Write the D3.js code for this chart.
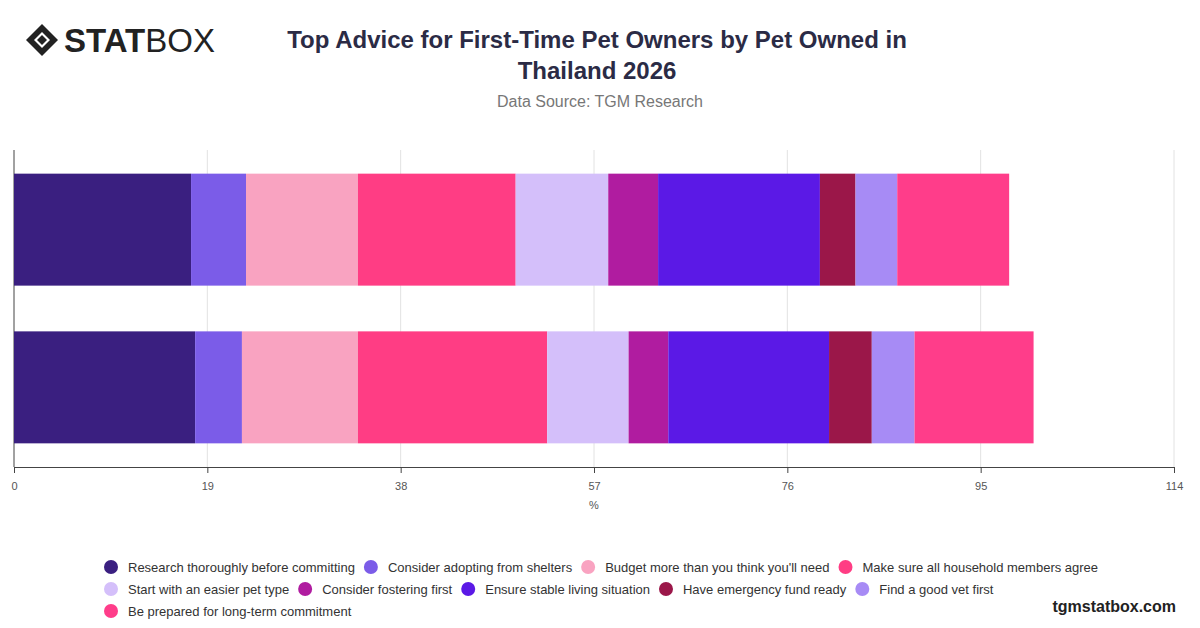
<!DOCTYPE html>
<html><head><meta charset="utf-8">
<script src="https://cdn.jsdelivr.net/npm/d3@7"></script>
<style>body{margin:0;background:#fff;font-family:"Liberation Sans",Arial,sans-serif}</style>
</head><body><svg width="1200" height="628"></svg>
<script>
const categories = ["Cat", "Dog"];
const seriesNames = ["Research thoroughly before committing","Consider adopting from shelters","Budget more than you think you'll need","Make sure all household members agree","Start with an easier pet type","Consider fostering first","Ensure stable living situation","Have emergency fund ready","Find a good vet first","Be prepared for long-term commitment"];
const seriesColors = ["#3a1f80","#7b5ce8","#f9a3c1","#ff3d84","#d4bffa","#b01ca0","#5b19e6","#9b1749","#a78bf5","#ff3d8a"];
const catValues = [17.4,5.4,11.0,15.5,9.1,4.9,15.9,3.5,4.1,11.0];
const dogValues = [17.8,4.6,11.4,18.6,8.0,3.9,15.8,4.2,4.2,11.7];
const ticks = [0,19,38,57,76,95,114];

const svg = d3.select("svg");
// logo
const logo = svg.append("g").attr("transform","translate(26,24)");
logo.append("path").attr("d","M16,0 L32,16 L16,32 L0,16 Z M16,8 L8,16 L16,24 L24,16 Z").attr("fill","#222").attr("fill-rule","evenodd");
logo.append("path").attr("d","M16,11 L21,16 L16,21 L11,16 Z").attr("fill","#222");
logo.append("text").attr("x",38).attr("y",28).attr("font-size",33).attr("fill","#222")
  .html('<tspan font-weight="900">STAT</tspan><tspan font-weight="400">BOX</tspan>');

svg.append("text").attr("x",597).attr("y",48).attr("text-anchor","middle").attr("font-size",24).attr("font-weight",700).attr("fill","#2b2b45").text("Top Advice for First-Time Pet Owners by Pet Owned in");
svg.append("text").attr("x",597).attr("y",79).attr("text-anchor","middle").attr("font-size",24).attr("font-weight",700).attr("fill","#2b2b45").text("Thailand 2026");
svg.append("text").attr("x",600).attr("y",107).attr("text-anchor","middle").attr("font-size",16).attr("fill","#777").text("Data Source: TGM Research");

const x = d3.scaleLinear().domain([0,114]).range([14,1174]);
const y = d3.scaleBand().domain(categories).range([150,467]).paddingInner(0.29).paddingOuter(0.15);

svg.append("g").selectAll("line").data(ticks.slice(1)).join("line")
  .attr("x1",d=>x(d)).attr("x2",d=>x(d)).attr("y1",150).attr("y2",467).attr("stroke","#e2e2e2");
svg.append("line").attr("x1",14).attr("x2",14).attr("y1",150).attr("y2",467).attr("stroke","#444");

const rows = [catValues, dogValues];
rows.forEach((vals,ci)=>{
  let acc=0;
  const segs = vals.map((v,i)=>{const s={x0:acc,x1:acc+v,i};acc+=v;return s;});
  svg.append("g").selectAll("rect").data(segs).join("rect")
    .attr("x",d=>x(d.x0)).attr("width",d=>x(d.x1)-x(d.x0))
    .attr("y",y(categories[ci])).attr("height",y.bandwidth())
    .attr("fill",d=>seriesColors[d.i]);
});

const ax = svg.append("g").attr("transform","translate(0,467)")
  .call(d3.axisBottom(x).tickValues(ticks).tickSize(6).tickPadding(9));
ax.select(".domain").attr("stroke","#444");
ax.selectAll(".tick line").attr("stroke","#444");
ax.selectAll("text").attr("font-size",11).attr("fill","#555").attr("font-family","Liberation Sans,Arial,sans-serif");
svg.append("text").attr("x",594).attr("y",509).attr("text-anchor","middle").attr("font-size",11).attr("fill","#555").text("%");

// legend
let lx=104, ly=567;
seriesNames.forEach((n,i)=>{
  const g = svg.append("g");
  const t = g.append("text").attr("font-size",13).attr("fill","#333").attr("dy","0.35em").text(n);
  const w = t.node().getComputedTextLength();
  if (lx + 24 + w > 1110) { lx=104; ly+=22; }
  g.append("circle").attr("cx",lx+7).attr("cy",ly).attr("r",7).attr("fill",seriesColors[i]);
  t.attr("x",lx+24).attr("y",ly);
  lx += 24 + w + 9;
});

svg.append("text").attr("x",1176).attr("y",612).attr("text-anchor","end").attr("font-size",16).attr("font-weight",700).attr("fill","#222").text("tgmstatbox.com");
</script></body></html>
